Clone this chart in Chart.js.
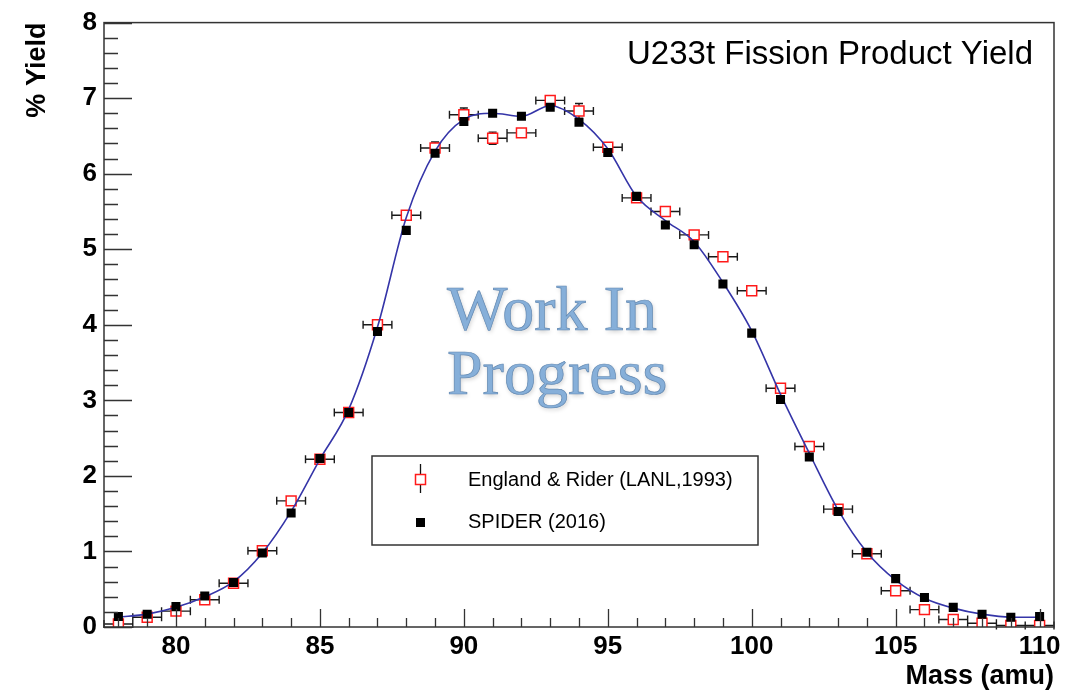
<!DOCTYPE html>
<html>
<head>
<meta charset="utf-8">
<title>U233t Fission Product Yield</title>
<script src="https://cdn.jsdelivr.net/npm/chart.js@4/dist/chart.umd.min.js"></script>
<style>
  html, body { margin: 0; padding: 0; background: #ffffff; }
  #wrap { width: 1067px; height: 697px; }
</style>
</head>
<body>
<div id="wrap"><canvas id="chart" width="1067" height="697"></canvas></div>
<script>
// Fragment mass numbers (amu)
const masses = [78, 79, 80, 81, 82, 83, 84, 85, 86, 87, 88, 89, 90, 91, 92, 93, 94,
                95, 96, 97, 98, 99, 100, 101, 102, 103, 104, 105, 106, 107, 108, 109, 110];

// England & Rider (LANL, 1993) evaluated yields, % per fission
const englandRider = [0.04, 0.13, 0.21, 0.36, 0.58, 1.01, 1.67, 2.22, 2.84, 4.00, 5.45, 6.34, 6.78,
                      6.47, 6.54, 6.97, 6.83, 6.35, 5.68, 5.50, 5.19, 4.90, 4.45, 3.16, 2.39, 1.56,
                      0.97, 0.48, 0.23, 0.10, 0.05, 0.02, 0.02];
// Their yield uncertainties (%)
const englandRiderErr = [0.01, 0.01, 0.01, 0.01, 0.02, 0.02, 0.03, 0.03, 0.04, 0.05, 0.06, 0.08, 0.09,
                         0.08, 0.07, 0.07, 0.10, 0.07, 0.07, 0.07, 0.07, 0.06, 0.06, 0.05, 0.04, 0.03,
                         0.02, 0.02, 0.01, 0.01, 0.01, 0.01, 0.01];
// Mass resolution half-width (amu)
const massHalfWidth = 0.5;

// SPIDER (2016) measured yields, %
const spider = [0.14, 0.17, 0.27, 0.41, 0.59, 0.98, 1.51, 2.23, 2.84, 3.91, 5.25, 6.27, 6.69,
                6.80, 6.76, 6.88, 6.68, 6.28, 5.70, 5.32, 5.06, 4.54, 3.89, 3.01, 2.25, 1.53,
                0.99, 0.64, 0.39, 0.26, 0.17, 0.13, 0.14];

// Smooth fit through the SPIDER yields
const fitCurve = [0.13, 0.17, 0.26, 0.40, 0.60, 0.98, 1.53, 2.22, 2.88, 3.97, 5.42, 6.30, 6.72,
                  6.80, 6.76, 6.90, 6.72, 6.33, 5.70, 5.38, 5.10, 4.56, 3.92, 3.08, 2.30, 1.55,
                  0.99, 0.62, 0.38, 0.25, 0.17, 0.13, 0.13];

// Axis tick labels
const xTickValues = [80, 85, 90, 95, 100, 105, 110];
const yTickValues = [0, 1, 2, 3, 4, 5, 6, 7, 8];

const plotTitle = 'U233t Fission Product Yield';
const watermarkLines = ['Work In', 'Progress'];

const SANS = '"Liberation Sans", Arial, Helvetica, sans-serif';
const SERIF = '"Liberation Serif", "Times New Roman", serif';

const toXY = (vals) => masses.map((m, i) => ({ x: m, y: vals[i] }));

// Frame around the plot area with inward-pointing major/minor ticks
const framePlugin = {
  id: 'frameTicks',
  afterDatasetsDraw(chart) {
    const { ctx, chartArea: a, scales: { x, y } } = chart;
    ctx.save();
    ctx.strokeStyle = '#333333';
    ctx.lineWidth = 1.5;
    ctx.strokeRect(a.left, a.top, a.right - a.left, a.bottom - a.top);
    ctx.lineWidth = 1.3;
    ctx.beginPath();
    // x axis: major every 5, minor every 1
    for (let m = Math.ceil(x.min); m <= x.max; m++) {
      const px = Math.round(x.getPixelForValue(m)) + 0.5;
      const len = (m % 5 === 0) ? 18 : 9;
      ctx.moveTo(px, a.bottom);
      ctx.lineTo(px, a.bottom - len);
    }
    // y axis: major every 1, minor every 0.2
    for (let k = 0; k <= 40; k++) {
      const v = k / 5;
      const py = Math.round(y.getPixelForValue(v)) + 0.5;
      const len = (k % 5 === 0) ? 28 : 14;
      ctx.moveTo(a.left, py);
      ctx.lineTo(a.left + len, py);
    }
    ctx.stroke();
    ctx.restore();
  }
};

// Error bars for the evaluated yields (drawn under the markers)
const errorBarPlugin = {
  id: 'errorBars',
  beforeDatasetsDraw(chart) {
    const { ctx, scales: { x, y } } = chart;
    const half = 5;   // half marker side in px
    const cap = 4;
    ctx.save();
    ctx.strokeStyle = '#1a1a1a';
    ctx.lineWidth = 1.4;
    ctx.beginPath();
    masses.forEach((m, i) => {
      const cx = x.getPixelForValue(m);
      const cy = y.getPixelForValue(englandRider[i]);
      const xl = x.getPixelForValue(m - massHalfWidth);
      const xr = x.getPixelForValue(m + massHalfWidth);
      ctx.moveTo(xl, cy); ctx.lineTo(cx - half, cy);
      ctx.moveTo(cx + half, cy); ctx.lineTo(xr, cy);
      ctx.moveTo(xl, cy - cap); ctx.lineTo(xl, cy + cap);
      ctx.moveTo(xr, cy - cap); ctx.lineTo(xr, cy + cap);
      const yt = y.getPixelForValue(englandRider[i] + englandRiderErr[i]);
      const yb = y.getPixelForValue(Math.max(0, englandRider[i] - englandRiderErr[i]));
      if (cy - yt > half + 1) {
        ctx.moveTo(cx, cy - half); ctx.lineTo(cx, yt);
        ctx.moveTo(cx - cap, yt); ctx.lineTo(cx + cap, yt);
      }
      if (yb - cy > half + 1) {
        ctx.moveTo(cx, cy + half); ctx.lineTo(cx, yb);
        ctx.moveTo(cx - cap, yb); ctx.lineTo(cx + cap, yb);
      }
    });
    ctx.stroke();
    ctx.restore();
  }
};

// Plot title, watermark and legend box
const annotationPlugin = {
  id: 'annotations',
  afterDraw(chart) {
    const { ctx } = chart;
    ctx.save();

    // Title in the upper right corner of the frame
    ctx.fillStyle = '#000000';
    ctx.font = '33px ' + SANS;
    ctx.textAlign = 'right';
    ctx.textBaseline = 'alphabetic';
    ctx.fillText(plotTitle, 1033, 64);

    // Watermark
    ctx.font = '64px ' + SERIF;
    ctx.textAlign = 'left';
    ctx.shadowColor = 'rgba(0,0,0,0.18)';
    ctx.shadowBlur = 4;
    ctx.shadowOffsetX = 1;
    ctx.shadowOffsetY = 2;
    ctx.fillStyle = '#86afd9';
    ctx.fillText(watermarkLines[0], 447, 330);
    ctx.fillText(watermarkLines[1], 447, 394);
    ctx.shadowColor = 'transparent';
    ctx.strokeStyle = '#6389b2';
    ctx.lineWidth = 0.7;
    ctx.strokeText(watermarkLines[0], 447, 330);
    ctx.strokeText(watermarkLines[1], 447, 394);

    // Legend box
    const ds = chart.data.datasets;
    ctx.fillStyle = '#ffffff';
    ctx.fillRect(372, 456, 386, 89);
    ctx.strokeStyle = '#333333';
    ctx.lineWidth = 1.5;
    ctx.strokeRect(372, 456, 386, 89);

    // Entry 1: open red square with error bar
    ctx.strokeStyle = '#111111';
    ctx.lineWidth = 1.3;
    ctx.beginPath();
    ctx.moveTo(420.5, 464); ctx.lineTo(420.5, 474);
    ctx.moveTo(420.5, 485); ctx.lineTo(420.5, 493);
    ctx.stroke();
    ctx.strokeStyle = ds[0].borderColor;
    ctx.lineWidth = 1.5;
    ctx.strokeRect(415.5, 474.5, 10, 10);
    // Entry 2: filled black square
    ctx.fillStyle = ds[2].backgroundColor;
    ctx.fillRect(416, 518, 9, 9);

    ctx.fillStyle = '#000000';
    ctx.font = '20px ' + SANS;
    ctx.textBaseline = 'middle';
    ctx.textAlign = 'left';
    ctx.fillText(ds[0].label, 468, 480);
    ctx.fillText(ds[2].label, 468, 522);

    ctx.restore();
  }
};

new Chart(document.getElementById('chart'), {
  type: 'scatter',
  data: {
    datasets: [
      {
        label: 'England & Rider (LANL,1993)',
        data: toXY(englandRider),
        pointStyle: 'rect',
        pointRadius: 7,
        borderColor: '#ff1a1a',
        backgroundColor: '#ffffff',
        borderWidth: 1.5,
        order: 3
      },
      {
        label: 'Fit',
        type: 'line',
        data: toXY(fitCurve),
        borderColor: '#3535a8',
        borderWidth: 1.6,
        pointRadius: 0,
        fill: false,
        cubicInterpolationMode: 'monotone',
        order: 2
      },
      {
        label: 'SPIDER (2016)',
        data: toXY(spider),
        pointStyle: 'rect',
        pointRadius: 6.4,
        borderWidth: 0,
        borderColor: '#000000',
        backgroundColor: '#000000',
        order: 1
      }
    ]
  },
  options: {
    responsive: false,
    animation: false,
    events: [],
    layout: { padding: { top: 21, right: 13, left: 0, bottom: 0 } },
    plugins: {
      legend: { display: false },
      tooltip: { enabled: false },
      title: { display: false }
    },
    scales: {
      x: {
        type: 'linear',
        min: 77.5,
        max: 110.5,
        afterBuildTicks: (s) => { s.ticks = xTickValues.map(v => ({ value: v })); },
        afterFit: (s) => { s.height = 70; },
        grid: { display: false, drawTicks: false },
        border: { display: false },
        ticks: {
          color: '#000000',
          font: { family: SANS, size: 26, weight: 'bold' },
          padding: 4,
          maxRotation: 0,
          autoSkip: false
        },
        title: {
          display: true,
          text: 'Mass (amu)',
          align: 'end',
          color: '#000000',
          font: { family: SANS, size: 27, weight: 'bold' },
          padding: { top: 0, bottom: 4 }
        }
      },
      y: {
        type: 'linear',
        min: 0,
        max: 8,
        afterBuildTicks: (s) => { s.ticks = yTickValues.map(v => ({ value: v })); },
        afterFit: (s) => { s.width = 104; },
        grid: { display: false, drawTicks: false },
        border: { display: false },
        ticks: {
          color: '#000000',
          font: { family: SANS, size: 26, weight: 'bold' },
          padding: 7,
          autoSkip: false
        },
        title: {
          display: true,
          text: '% Yield',
          align: 'end',
          color: '#000000',
          font: { family: SANS, size: 27, weight: 'bold' },
          padding: { top: 21, bottom: 0 }
        }
      }
    }
  },
  plugins: [errorBarPlugin, framePlugin, annotationPlugin]
});
</script>
</body>
</html>
